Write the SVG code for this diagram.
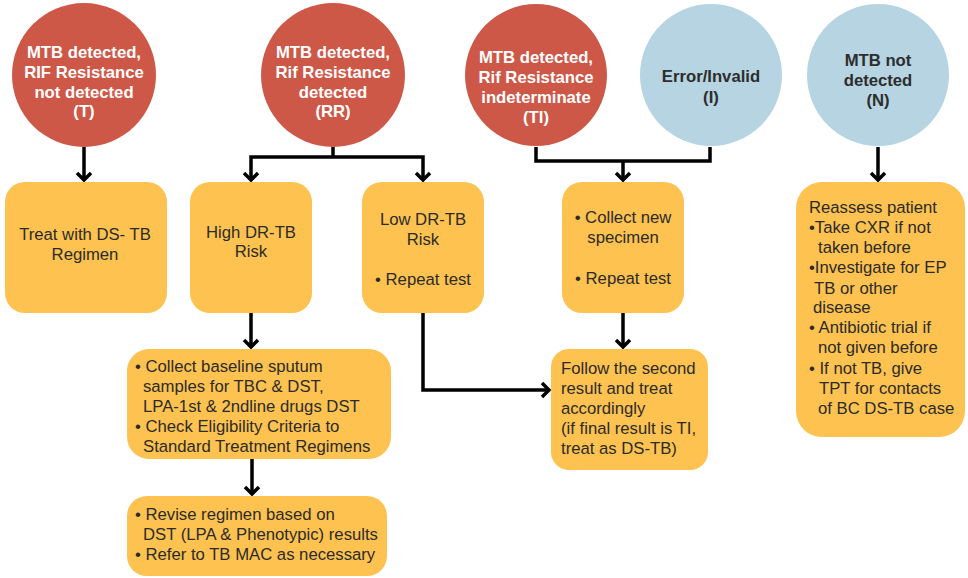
<svg xmlns="http://www.w3.org/2000/svg" width="968" height="578" viewBox="0 0 968 578">
  <defs>
    <style>
      text { font-family: "Liberation Sans", Arial, Helvetica, sans-serif; font-size: 16.7px; }
      .red { fill: #CE5848; }
      .blue { fill: #B6D4E1; }
      .box { fill: #FDC24F; }
      .wt { fill: #FFFFFF; font-weight: bold; text-anchor: middle; }
      .dk { fill: #2D2D2D; font-weight: bold; text-anchor: middle; }
      .tx { fill: #2B2B2B; }
      .c { text-anchor: middle; }
      .wire { fill: none; stroke: #000; stroke-width: 3.5; stroke-linejoin: miter; }
      .arr { marker-end: url(#chev); }
    </style>
    <marker id="chev" viewBox="-12 -10 16 20" refX="0" refY="0" markerWidth="16" markerHeight="20" markerUnits="userSpaceOnUse" orient="auto-start-reverse">
      <path d="M-7,-7 L0,0 L-7,7" fill="none" stroke="#000" stroke-width="3.5" stroke-linejoin="miter"/>
    </marker>
  </defs>

  <rect width="968" height="578" fill="#FFFFFF"/>

  <!-- connectors -->
  <g id="connectors">
    <path class="wire arr" d="M84,147 V180"/>
    <path class="wire" d="M333,147 V157"/>
    <path class="wire" d="M251,180 V157 H423 V180" marker-start="url(#chev)" marker-end="url(#chev)"/>
    <path class="wire" d="M536,147 V161 H710 V147"/>
    <path class="wire arr" d="M623,161 V180"/>
    <path class="wire arr" d="M878,147 V180"/>
    <path class="wire arr" d="M251,313 V347"/>
    <path class="wire arr" d="M423,313 V390 H549"/>
    <path class="wire arr" d="M623,313 V347"/>
    <path class="wire arr" d="M252,459 V494"/>
  </g>

  <!-- result circles -->
  <g id="res-T">
    <circle class="red" cx="84" cy="75" r="72"/>
    <text class="wt" x="84" y="58">MTB detected,</text>
    <text class="wt" x="84" y="78">RIF Resistance</text>
    <text class="wt" x="84" y="98">not detected</text>
    <text class="wt" x="84" y="117">(T)</text>
  </g>
  <g id="res-RR">
    <circle class="red" cx="333" cy="75" r="72"/>
    <text class="wt" x="333" y="58">MTB detected,</text>
    <text class="wt" x="333" y="78">Rif Resistance</text>
    <text class="wt" x="333" y="98">detected</text>
    <text class="wt" x="333" y="117">(RR)</text>
  </g>
  <g id="res-TI">
    <circle class="red" cx="536" cy="75" r="71"/>
    <text class="wt" x="536" y="63">MTB detected,</text>
    <text class="wt" x="536" y="83">Rif Resistance</text>
    <text class="wt" x="536" y="103">indeterminate</text>
    <text class="wt" x="536" y="123">(TI)</text>
  </g>
  <g id="res-I">
    <circle class="blue" cx="711" cy="75" r="71"/>
    <text class="dk" x="711" y="82">Error/Invalid</text>
    <text class="dk" x="711" y="103">(I)</text>
  </g>
  <g id="res-N">
    <circle class="blue" cx="878" cy="75" r="71"/>
    <text class="dk" x="878" y="66">MTB not</text>
    <text class="dk" x="878" y="86">detected</text>
    <text class="dk" x="878" y="106">(N)</text>
  </g>

  <!-- action boxes -->
  <g id="act-ds">
    <rect class="box" x="5" y="182" width="162" height="131" rx="20"/>
    <text class="tx c" x="85" y="240">Treat with DS- TB</text>
    <text class="tx c" x="85" y="260">Regimen</text>
  </g>
  <g id="act-high">
    <rect class="box" x="190" y="182" width="122" height="131" rx="20"/>
    <text class="tx c" x="251" y="238">High DR-TB</text>
    <text class="tx c" x="251" y="257">Risk</text>
  </g>
  <g id="act-low">
    <rect class="box" x="362" y="182" width="122" height="131" rx="20"/>
    <text class="tx c" x="423" y="225">Low DR-TB</text>
    <text class="tx c" x="423" y="245">Risk</text>
    <text class="tx c" x="423" y="285">• Repeat test</text>
  </g>
  <g id="act-repeat">
    <rect class="box" x="562" y="182" width="122" height="131" rx="20"/>
    <text class="tx c" x="623" y="223">• Collect new</text>
    <text class="tx c" x="623" y="243">specimen</text>
    <text class="tx c" x="623" y="284">• Repeat test</text>
  </g>
  <g id="act-reassess">
    <rect class="box" x="796" y="182" width="169" height="255" rx="26"/>
    <text class="tx" x="809" y="213">Reassess patient</text>
    <text class="tx" x="809" y="233">•Take CXR if not</text>
    <text class="tx" x="818" y="253">taken before</text>
    <text class="tx" x="809" y="273">•Investigate for EP</text>
    <text class="tx" x="814" y="294">TB or other</text>
    <text class="tx" x="813" y="313">disease</text>
    <text class="tx" x="809" y="333">• Antibiotic trial if</text>
    <text class="tx" x="818" y="353">not given before</text>
    <text class="tx" x="809" y="374">• If not TB, give</text>
    <text class="tx" x="819" y="394">TPT for contacts</text>
    <text class="tx" x="818" y="414">of BC DS-TB case</text>
  </g>
  <g id="act-follow">
    <rect class="box" x="551" y="349" width="157" height="121" rx="18"/>
    <text class="tx" x="561" y="374">Follow the second</text>
    <text class="tx" x="561" y="394">result and treat</text>
    <text class="tx" x="561" y="414">accordingly</text>
    <text class="tx" x="561" y="434">(if final result is TI,</text>
    <text class="tx" x="561" y="454">treat as DS-TB)</text>
  </g>
  <g id="act-baseline">
    <rect class="box" x="127" y="349" width="264" height="110" rx="22"/>
    <text class="tx" x="135" y="372">• Collect baseline sputum</text>
    <text class="tx" x="143" y="392">samples for TBC &amp; DST,</text>
    <text class="tx" x="143" y="412">LPA-1st &amp; 2ndline drugs DST</text>
    <text class="tx" x="135" y="432">• Check Eligibility Criteria to</text>
    <text class="tx" x="143" y="452">Standard Treatment Regimens</text>
  </g>
  <g id="act-revise">
    <rect class="box" x="127" y="496" width="260" height="80" rx="20"/>
    <text class="tx" x="135" y="520">• Revise regimen based on</text>
    <text class="tx" x="143" y="540">DST (LPA &amp; Phenotypic) results</text>
    <text class="tx" x="135" y="560">• Refer to TB MAC as necessary</text>
  </g>
</svg>
